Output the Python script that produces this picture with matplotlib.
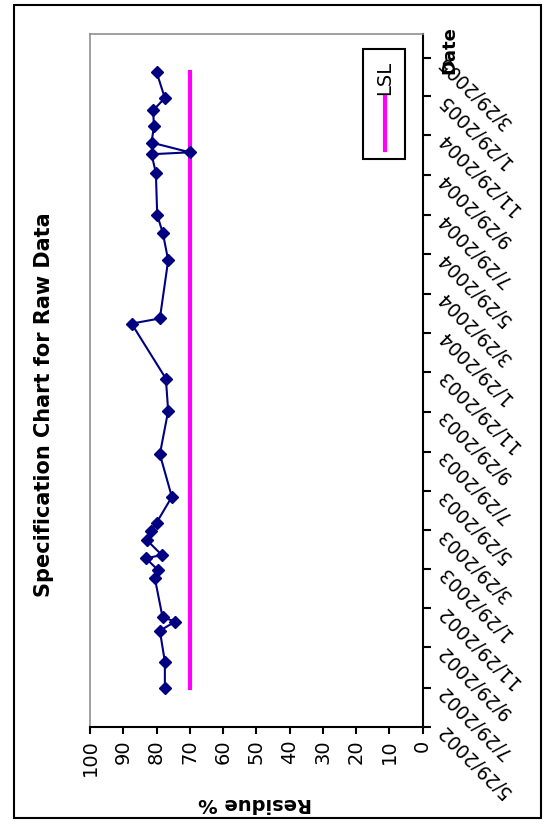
import matplotlib
matplotlib.use("Agg")
import matplotlib.pyplot as plt
import matplotlib.dates as mdates
from matplotlib.patches import Rectangle
from matplotlib.lines import Line2D
import pandas as pd

# readings (residue %) by sample date
sample_dates = ["2002-07-29", "2002-09-07", "2002-10-25", "2002-11-08", "2002-11-15",
                "2003-01-14", "2003-01-27", "2003-02-14", "2003-02-19", "2003-03-14",
                "2003-03-28", "2003-04-10", "2003-05-20", "2003-07-25", "2003-09-30",
                "2003-11-19", "2004-02-12", "2004-02-20", "2004-05-20", "2004-07-01",
                "2004-07-29", "2004-10-02", "2004-10-31", "2004-11-03", "2004-11-18",
                "2004-12-13", "2005-01-07", "2005-01-26", "2005-03-07"]
residue = [77.5, 77.5, 79.0, 74.4, 78.2,
           80.5, 79.6, 83.2, 78.4, 82.9,
           81.7, 80.0, 75.4, 79.0, 76.5,
           77.2, 87.5, 79.0, 76.5, 78.1,
           79.8, 80.2, 81.5, 70.0, 81.5,
           80.8, 81.0, 77.5, 80.0]
lsl = 70

date_ticks = ["5/29/2002", "7/29/2002", "9/29/2002", "11/29/2002", "1/29/2003",
              "3/29/2003", "5/29/2003", "7/29/2003", "9/29/2003", "11/29/2003",
              "1/29/2004", "3/29/2004", "5/29/2004", "7/29/2004", "9/29/2004",
              "11/29/2004", "1/29/2005", "3/29/2005"]
residue_ticks = [100, 90, 80, 70, 60, 50, 40, 30, 20, 10, 0]

dates = pd.to_datetime(sample_dates)
tick_dates = pd.to_datetime(date_ticks, format="%m/%d/%Y")

W, H = 544, 824
fig = plt.figure(figsize=(W / 100, H / 100), dpi=100)
fig.patch.set_facecolor("white")

# chart is drawn turned on its side: residue runs along the bottom, dates up the right
ax = fig.add_axes([90 / W, 1 - 727 / H, 332.7 / W, 693 / H])
ax.plot(residue, dates, color="#000080", lw=1.5, marker="D", ms=6.5,
        mfc="#000080", mec="#000080", zorder=3)
ax.plot([lsl, lsl], [dates[0], dates[-1]], color="#ff00ff", lw=3, zorder=2)

ax.set_xlim(100, 0)
ax.set_ylim(tick_dates[0], pd.Timestamp("2005-05-05"))

ax.set_xticks(residue_ticks)
ax.set_xticklabels([str(t) for t in residue_ticks], rotation=90, fontsize=14)
ax.yaxis.tick_right()
ax.set_yticks(mdates.date2num(tick_dates))
ax.set_yticklabels(date_ticks, rotation=135, rotation_mode="anchor",
                   ha="right", va="center", fontsize=13.5)
ax.tick_params(axis="x", direction="out", length=5, width=1.5, pad=4)
ax.tick_params(axis="y", direction="out", length=6, width=1.5, pad=7)

for side in ["left", "top"]:
    ax.spines[side].set_color("#909090")
    ax.spines[side].set_linewidth(1.2)
for side in ["bottom", "right"]:
    ax.spines[side].set_color("black")
    ax.spines[side].set_linewidth(1.5)

# legend box, turned like the rest
ax.add_patch(Rectangle((0.8206, 0.8196), 0.1261, 0.1588, transform=ax.transAxes,
                       fill=False, ec="black", lw=1.5, zorder=4))
ax.add_line(Line2D([0.8867, 0.8867], [0.8326, 0.909], transform=ax.transAxes,
                   color="#ff00ff", lw=3, zorder=5))
ax.text(0.8867, 0.9372, "LSL", transform=ax.transAxes, rotation=90,
        ha="center", va="center", fontsize=14)

fig.text(44 / W, 1 - 405 / H, "Specification Chart for Raw Data", rotation=90,
         ha="center", va="center", fontsize=15, fontweight="bold")
fig.text(255 / W, 1 - 804 / H, "Residue %", rotation=180,
         ha="center", va="center", fontsize=14, fontweight="bold")
fig.text(449 / W, 1 - 50 / H, "Date", rotation=90,
         ha="center", va="center", fontsize=13, fontweight="bold")

# outer chart frame
fig.patches.append(Rectangle((14 / W, 1 - 818 / H), 527 / W, 813 / H,
                             transform=fig.transFigure, fill=False,
                             ec="black", lw=1.5))

fig.savefig("out.png", dpi=100)
